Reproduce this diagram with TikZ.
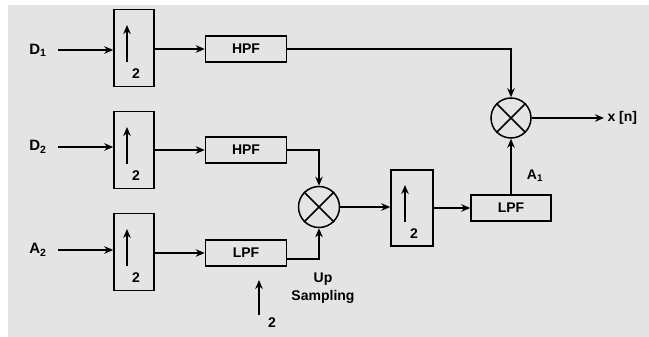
\documentclass[tikz,border=0pt]{standalone}
\usepackage{fontspec}
\setmainfont{Liberation Sans}
\usetikzlibrary{positioning,arrows.meta}
\definecolor{bgray}{HTML}{E4E4E4}

\begin{document}
\begin{tikzpicture}[x=1pt,y=-1pt,>={Stealth[length=9pt,width=7.5pt]},
every node/.style={font=\fontsize{14}{16}\selectfont\bfseries},
sig/.style={font=\fontsize{15}{17}\selectfont\bfseries},
upbox/.style={draw,line width=1.5pt,minimum width=40pt,minimum height=77pt,inner sep=0pt},
filt/.style={draw,line width=1.5pt,minimum width=81pt,minimum height=26pt,inner sep=0pt},
mult/.style={draw,circle,line width=1.5pt,minimum size=41pt,inner sep=0pt},
wire/.style={line width=1.5pt}]
\useasboundingbox (0,0) rectangle (649,337);
\fill[bgray] (8,5) rectangle (649,337);
% inputs and first upsamplers
\node[sig] (d1) at (38,50) {D\textsubscript{1}};
\node[sig] (d2) at (38,147) {D\textsubscript{2}};
\node[sig] (a2) at (38,250) {A\textsubscript{2}};
\node[upbox] (up1) at (134,48) {};
\node[upbox] (up2) at (134,150) {};
\node[upbox] (up3) at (134,252) {};
% filters
\node[filt] (hpf1) at (246,49) {HPF};
\node[filt] (hpf2) at (246,150) {HPF};
\node[filt] (lpf1) at (246,253) {LPF};
% second stage
\node[mult] (m1) at (319,207) {};
\node[upbox,minimum width=42pt,minimum height=76pt] (up4) at (412,208) {};
\node[filt,minimum width=80pt] (lpf2) at (511,208) {LPF};
\node[mult,minimum size=40pt] (m2) at (511,118) {};
\node[anchor=west] (xn) at (604,118) {x [n]};
\node (a1) at (535,176) {A\textsubscript{1}};
\node[align=center,font=\fontsize{14}{18}\selectfont\bfseries] (ups) at (323,288) {Up\\Sampling};
% upsampling symbols
\foreach \b in {up1,up2,up3,up4}{
  \draw[wire,->] ([shift={(-7pt,-14pt)}]\b.center) -- ([shift={(-7pt,23pt)}]\b.center);
  \node (two-\b) at ([shift={(2pt,-26pt)}]\b.center) {2};
}
\coordinate (ua) at (259,315);
\coordinate (ub) at (259,280);
\draw[wire,->] (ua) -- (ub);
\node (two-ups) at (272,323) {2};
% multipliers
\foreach \m in {m1,m2}
  \draw[wire] (\m.north west) -- (\m.south east) (\m.north east) -- (\m.south west);
% connections
\draw[wire,->] ([xshift=8pt]d1.east) -- (d1 -| up1.west);
\draw[wire,->] ([xshift=8pt]d2.east) -- (d2 -| up2.west);
\draw[wire,->] ([xshift=8pt]a2.east) -- (a2 -| up3.west);
\draw[wire,->] (up1.east |- hpf1) -- (hpf1.west);
\draw[wire,->] (up2.east |- hpf2) -- (hpf2.west);
\draw[wire,->] (up3.east |- lpf1) -- (lpf1.west);
\draw[wire,->] (hpf1.east) -| (m2.north);
\draw[wire,->] (hpf2.east) -| (m1.north);
\draw[wire,->] ([yshift=-6pt]lpf1.east) -| (m1.south);
\draw[wire,->] (m1.east) -- (m1 -| up4.west);
\draw[wire,->] (up4.east |- lpf2) -- (lpf2.west);
\draw[wire,->] (lpf2.north) -- (m2.south);
\draw[wire,->] (m2.east) -- (xn.west);
\end{tikzpicture}
\end{document}
